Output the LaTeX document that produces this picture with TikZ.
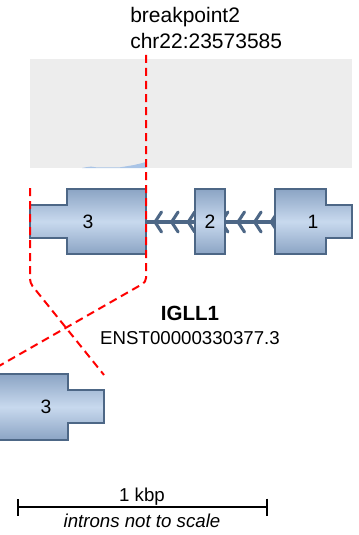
\documentclass[tikz,border=0pt]{standalone}
\usepackage{fontspec}
\setmainfont{Liberation Sans}
\usetikzlibrary{arrows.meta, positioning}
\definecolor{exondark}{HTML}{8BA4C4}
\definecolor{exonlight}{HTML}{C8D9EE}
\definecolor{exonline}{HTML}{4D6786}
\definecolor{covfill}{HTML}{A9C4E6}
\definecolor{trackbg}{HTML}{EDEDED}

\begin{document}
\begin{tikzpicture}[x=0.75pt,y=-0.75pt,
    exon/.style={draw=exonline, line width=1.2pt, top color=exondark, bottom color=exondark, middle color=exonlight},
    intron/.style={draw=exonline, line width=2.5pt},
    chev/.style={draw=exonline, line width=2.3pt, line cap=round},
    breakline/.style={draw=red, line width=1.5pt, dash pattern=on 6pt off 3.75pt, rounded corners=3pt},
    txt/.style={inner sep=0pt, font=\fontsize{14}{16}\selectfont},
    bigtxt/.style={inner sep=0pt, font=\fontsize{15.75}{18}\selectfont}]
  \useasboundingbox (0,0) rectangle (359,535);
  % coverage track
  \fill[trackbg] (30,59) rectangle (352,168);
  \fill[covfill] (82,168) -- (86,167.2) -- (91,166.6) -- (96,167.3) -- (120,167.3) -- (127,166.2)
    -- (134,165) -- (140,163.6) -- (146,162) -- (146,168) -- cycle;
  % intron with chevrons
  \draw[intron] (146,222) -- (275,222);
  \foreach \cx in {155,171.6,...,272}
    \draw[chev] (\cx+6.5,212) -- (\cx,222) -- (\cx+6.5,232);
  % exons
  \path[exon] (30,205) -- (67,205) -- (67,189) -- (146,189) -- (146,254) -- (67,254) -- (67,238) -- (30,238) -- cycle;
  \path[exon] (195,189) rectangle (225,254);
  \path[exon] (275,189) -- (326,189) -- (326,205) -- (352,205) -- (352,238) -- (326,238) -- (326,254) -- (275,254) -- cycle;
  \path[exon] (-11,374) -- (68,374) -- (68,390) -- (104,390) -- (104,423) -- (68,423) -- (68,440) -- (-11,440) -- cycle;
  \node[txt, font=\fontsize{14.5}{16}\selectfont] (exthree) at (88,222) {3};
  \node[txt, font=\fontsize{14.5}{16}\selectfont] (extwo) at (210,222) {2};
  \node[txt, font=\fontsize{14.5}{16}\selectfont] (exone) at (313,222) {1};
  \node[txt, font=\fontsize{14.5}{16}\selectfont] (exfused) at (46,407) {3};
  % breakpoint
  \node[bigtxt, anchor=west] (bpname) at (130,17) {breakpoint2};
  \node[bigtxt, anchor=west] (bppos) at (130,41) {chr22:23573585};
  \coordinate (bptop) at (146,55);
  \coordinate (bpbend) at (146,282);
  \coordinate (bpend) at (-1,366);
  \coordinate (cuttop) at (30,188);
  \coordinate (cutbend) at (30,283);
  \coordinate (cutend) at (104,375);
  \draw[breakline] (bptop) -- (bpbend) -- (bpend);
  \draw[breakline] (cuttop) -- (cutbend) -- (cutend);
  % gene label
  \node[inner sep=0pt, font=\fontsize{15.4}{18}\selectfont\bfseries] (genename) at (190,313) {IGLL1};
  \node[txt] (txid) at (190,338) {ENST00000330377.3};
  % scale bar
  \coordinate (sbleft) at (17,507);
  \coordinate (sbright) at (268,507);
  \draw[{Bar[width=12.75pt]}-{Bar[width=12.75pt]}, line width=1.3pt] (sbleft) -- (sbright);
  \node[txt] (scalelbl) at (142,497) {1 kbp};
  \node[txt, font=\fontsize{14}{16}\selectfont\itshape] (scalenote) at (142,521) {introns not to scale};
\end{tikzpicture}
\end{document}
